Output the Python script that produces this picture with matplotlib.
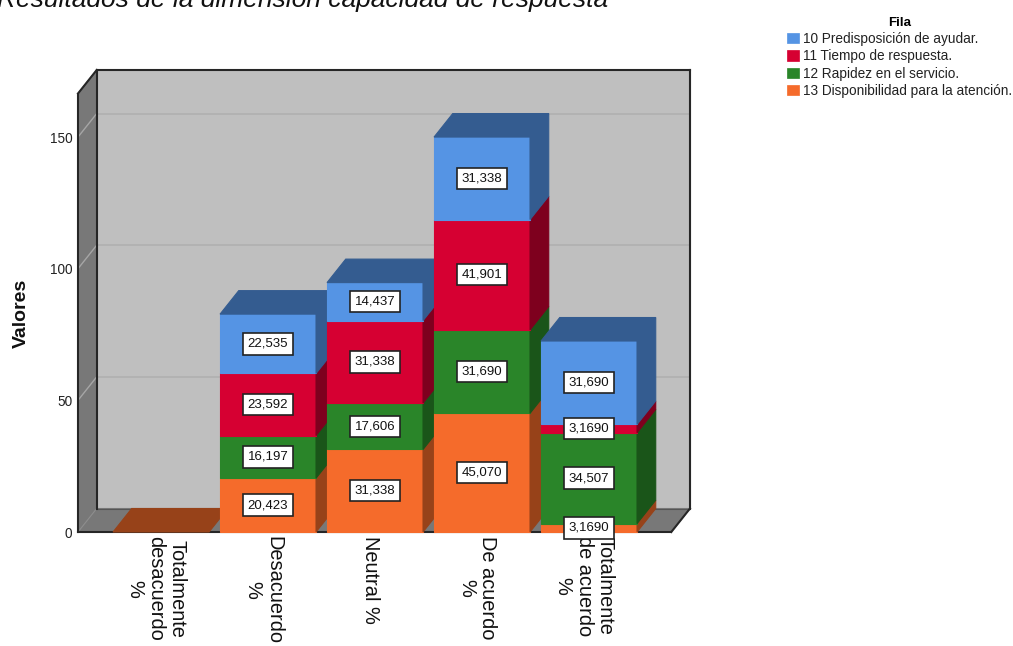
import matplotlib
matplotlib.use("Agg")
import matplotlib.pyplot as plt
from matplotlib.patches import Polygon, Patch
from matplotlib.transforms import ScaledTranslation

categories = ["Totalmente\ndesacuerdo\n%", "Desacuerdo\n%", "Neutral %", "De acuerdo\n%", "Totalmente\nde acuerdo\n%"]
disponibilidad = [0, 20.423, 31.338, 45.070, 3.1690]
rapidez = [0, 16.197, 17.606, 31.690, 34.507]
tiempo = [0, 23.592, 31.338, 41.901, 3.1690]
predisposicion = [0, 22.535, 14.437, 31.338, 31.690]
value_labels = {
    "disponibilidad": ["", "20,423", "31,338", "45,070", "3,1690"],
    "rapidez": ["", "16,197", "17,606", "31,690", "34,507"],
    "tiempo": ["", "23,592", "31,338", "41,901", "3,1690"],
    "predisposicion": ["", "22,535", "14,437", "31,338", "31,690"],
}
legend_labels = ["10 Predisposición de ayudar.", "11 Tiempo de respuesta.",
                 "12 Rapidez en el servicio.", "13 Disponibilidad para la atención."]
yticks = [0, 50, 100, 150]

W, H = 1013, 646
plt.rcParams["font.family"] = ["Liberation Sans", "DejaVu Sans"]
fig = plt.figure(figsize=(W / 100, H / 100), dpi=100, facecolor="white")
ax = fig.add_axes([78 / W, (H - 532) / H, 612 / W, 462 / H])

# Scales: one category slot is 107 px wide, one value unit is 2.633 px high.
x0, x1 = -0.776, -0.776 + 612 / 107
y0, y1 = 0, 462 / 2.633
ax.set_xlim(x0, x1)
ax.set_ylim(y0, y1)
dx, dy = 18.7 / 107, 23.5 / 2.633   # oblique depth of the box and bars
bar_w = 96 / 107

for s in ax.spines.values():
    s.set_visible(False)

WALL, SIDE, EDGE, GRID = "#BFBFBF", "#787878", "#262626", "#B2B2B2"
fx1 = x1 - dx
ytop = y1 - dy

def face(pts, fc, ec=None, lw=0.8, z=1):
    ax.add_patch(Polygon(pts, closed=True, fc=fc, ec=ec or fc, lw=lw, zorder=z, clip_on=False))

# Chart box: back wall, left wall, floor
face([(x0 + dx, dy), (x1, dy), (x1, y1), (x0 + dx, y1)], WALL)
face([(x0, 0), (x0 + dx, dy), (x0 + dx, y1), (x0, ytop)], SIDE)
face([(x0, 0), (fx1, 0), (x1, dy), (x0 + dx, dy)], SIDE)

for t in yticks[1:]:
    ax.plot([x0 + dx, x1], [t + dy, t + dy], color=GRID, lw=1.4, zorder=1.2)
    ax.plot([x0, x0 + dx], [t, t + dy], color="#A6A6A6", lw=1.0, zorder=1.2)

frame = [
    ([x0, x0], [0, ytop]), ([x0 + dx, x0 + dx], [dy, y1]), ([x0, x0 + dx], [ytop, y1]),
    ([x0 + dx, x1], [y1, y1]), ([x1, x1], [dy, y1]), ([fx1, x1], [0, dy]), ([x0, fx1], [0, 0]),
]
for xs, ys in frame:
    ax.plot(xs, ys, color=EDGE, lw=1.5, zorder=2, clip_on=False, solid_capstyle="projecting")
ax.plot([x0, x0 + dx], [0, dy], color="#8E8E8E", lw=0.8, zorder=1.5)
ax.plot([x0 + dx, x1], [dy, dy], color="#555555", lw=0.8, zorder=1.5)

stack = [
    (disponibilidad, value_labels["disponibilidad"], "#F56B2B", "#974219"),
    (rapidez, value_labels["rapidez"], "#2A8529", "#1A5519"),
    (tiempo, value_labels["tiempo"], "#D60032", "#7E001E"),
    (predisposicion, value_labels["predisposicion"], "#5594E4", "#345C90"),
]

# Bars are painted left to right, so each one overlaps its left neighbour's side face.
z = 3.0
for i in range(len(categories)):
    left, right = i - bar_w / 2, i + bar_w / 2
    base = 0
    top_shade = stack[0][3]
    for vals, labs, front, shade in stack:
        v = vals[i]
        if v <= 0:
            continue
        face([(left, base), (right, base), (right, base + v), (left, base + v)], front, ec=front, z=z)
        face([(right, base), (right + dx, base + dy), (right + dx, base + v + dy), (right, base + v)],
             shade, z=z)
        base += v
        top_shade = shade
    face([(left, base), (right, base), (right + dx, base + dy), (left + dx, base + dy)], top_shade, z=z)
    z += 0.1

# Value labels sit on top of everything, centred on their segment.
for i in range(len(categories)):
    base = 0
    for vals, labs, front, shade in stack:
        v = vals[i]
        if v > 0:
            ax.text(i, base + v / 2, labs[i], ha="center", va="center", fontsize=9.5, color="#111111",
                    zorder=10, clip_on=False,
                    bbox=dict(boxstyle="square,pad=0.36", fc="white", ec="#222222", lw=1.2))
        base += v

ax.set_axisbelow(True)
ax.set_yticks(yticks)
ax.set_yticklabels([str(t) for t in yticks], fontsize=9.8, color="#222222")
ax.tick_params(axis="y", length=0, pad=4)
ax.set_xticks(range(len(categories)))
ax.set_xticklabels(categories, rotation=270, fontsize=14.4, color="#111111", va="top", ha="center", linespacing=1.12)
ax.tick_params(axis="x", length=0, pad=3)
shift = ScaledTranslation(-5 / 100, 0, fig.dpi_scale_trans)
for lab in ax.get_xticklabels():
    lab.set_transform(lab.get_transform() + shift)

ax.set_ylabel("Valores", fontsize=14, fontweight="bold", color="#111111")
ax.yaxis.set_label_coords((30 - 78) / 612, (532 - 313) / 462)

fig.text(-3 / W, (H - 7) / H, "Resultados de la dimensión capacidad de respuesta",
         fontsize=19, style="italic", color="#111111", va="baseline", ha="left")

handles = [Patch(fc=c, ec=c, lw=0.5) for c in ("#5594E4", "#D60032", "#2A8529", "#F56B2B")]
fig.legend(handles, legend_labels, title="Fila", loc="upper left", bbox_to_anchor=(787 / W, 1 - 16.5 / H),
           frameon=False, fontsize=9.8, handlelength=0.87, handleheight=0.78, handletextpad=0.28,
           labelspacing=0.25, borderpad=0, borderaxespad=0, labelcolor="#222222",
           title_fontproperties={"weight": "bold", "size": 9.5})

fig.savefig("out.png", dpi=100, facecolor="white")
